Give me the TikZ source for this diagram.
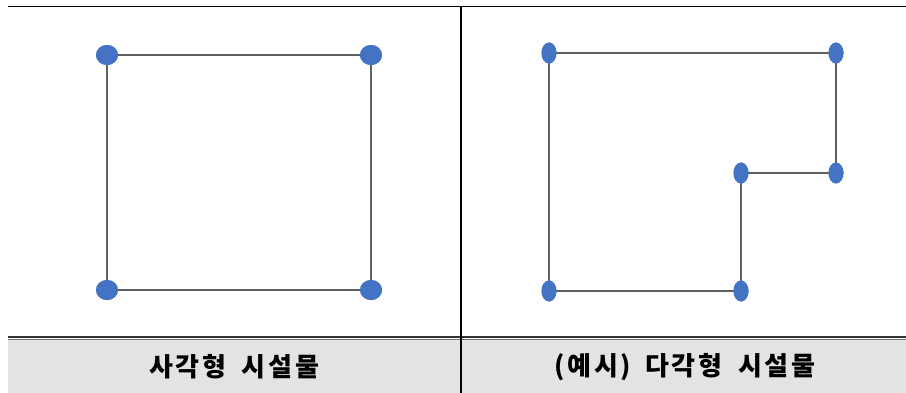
\documentclass[tikz,border=0pt]{standalone}
\usepackage{fontspec}
\newfontfamily\kr[LetterSpace=10]{Noto Sans CJK KR}
\usetikzlibrary{shapes.geometric}
\definecolor{dotblue}{HTML}{4472C4}
\definecolor{edgegray}{HTML}{606060}
\definecolor{rowgray}{HTML}{E3E3E3}
\tikzset{
  bigdot/.style={ellipse, fill=dotblue, minimum width=22pt, minimum height=20pt, inner sep=0pt},
  talldot/.style={ellipse, fill=dotblue, minimum width=15pt, minimum height=21pt, inner sep=0pt},
  edge/.style={draw=edgegray, line width=2.3pt},
  caption/.style={font=\kr\bfseries\fontsize{26}{28}\selectfont, text=black, inner sep=0pt}
}
\begin{document}
\begin{tikzpicture}[x=1pt,y=-1pt]
\useasboundingbox (0,0) rectangle (906,393);
% table
\fill[rowgray] (8,339) rectangle (906,393);
\draw[black, line width=1.5pt] (8,6.5) -- (906,6.5);
\draw[black!80, line width=2pt] (8,336.5) -- (906,336.5);
\draw[black!55, line width=1pt] (8,339.5) -- (906,339.5);
\draw[black, line width=1.3pt] (461,6) -- (461,393);
% left square
\node[bigdot] (a1) at (107,55) {};
\node[bigdot] (a2) at (371,55) {};
\node[bigdot] (a3) at (371,290) {};
\node[bigdot] (a4) at (107,290) {};
\draw[edge] (a1.center) -- (a2.center) -- (a3.center) -- (a4.center) -- cycle;
\foreach \n in {a1,a2,a3,a4} \node[bigdot] at (\n) {};
% right polygon
\node[talldot] (b1) at (549,53) {};
\node[talldot] (b2) at (836,53) {};
\node[talldot] (b3) at (836,173) {};
\node[talldot] (b4) at (741,173) {};
\node[talldot] (b5) at (741,291) {};
\node[talldot] (b6) at (549,291) {};
\draw[edge] (b1.center) -- (b2.center) -- (b3.center) -- (b4.center) -- (b5.center) -- (b6.center) -- cycle;
\foreach \n in {b1,b2,b3,b4,b5,b6} \node[talldot] at (\n) {};
% captions
\node[caption] (c1) at (234,367) {사각형\hspace{16pt}시설물};
\node[caption] (c2) at (685,367) {(예시)\hspace{14pt}다각형\hspace{16pt}시설물};
\end{tikzpicture}
\end{document}
